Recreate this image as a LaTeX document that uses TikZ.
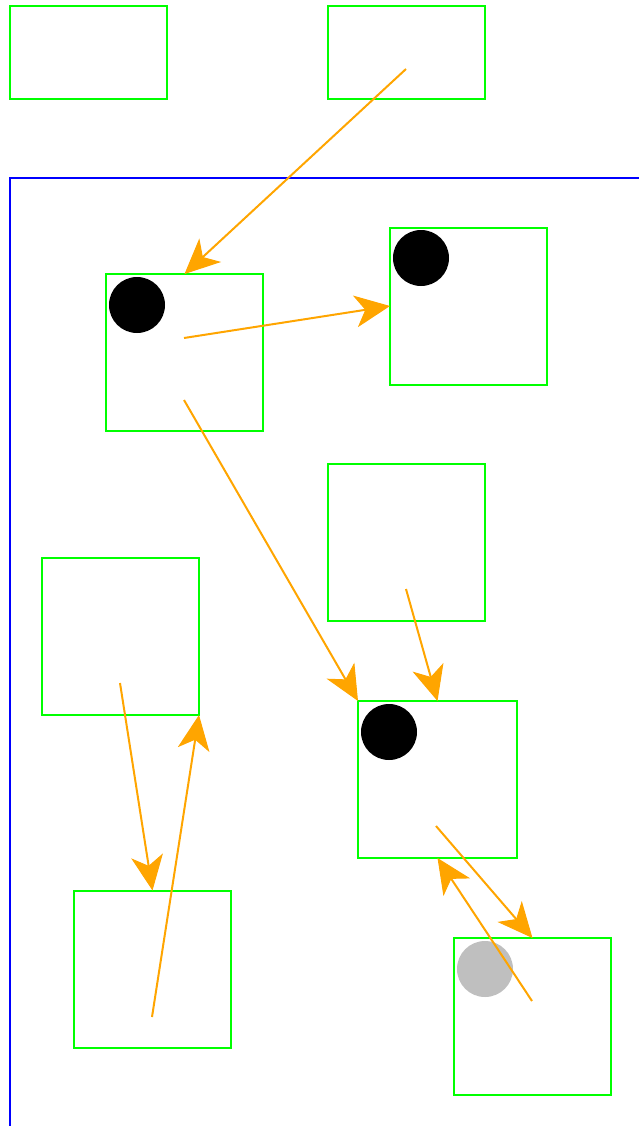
\documentclass[tikz,border=0pt]{standalone}
\usetikzlibrary{arrows.meta}
\definecolor{boxgreen}{RGB}{0,255,0}
\definecolor{arrorange}{RGB}{255,165,0}
\definecolor{framblue}{RGB}{0,0,255}
\tikzset{
  box/.style={draw=boxgreen, line width=2pt, minimum width=157pt, minimum height=157pt, inner sep=0pt, outer sep=0pt},
  flatbox/.style={box, minimum height=93pt},
  conn/.style={draw=arrorange, line width=2pt, -{Stealth[length=35pt, width=32pt, inset=10pt, fill=arrorange, line width=1pt]}},
  blackdot/.style={fill=black, circle, minimum size=56pt, inner sep=0pt},
  graydot/.style={fill=black!25, circle, minimum size=56pt, inner sep=0pt}
}
\begin{document}
\begin{tikzpicture}[x=1pt, y=-1pt]
\useasboundingbox (0,0) rectangle (639,1126);
% frame
\draw[framblue, line width=2pt] (10,1126) -- (10,178) -- (639,178);
% boxes
\node[flatbox] (TL) at (88.5,52.5) {};
\node[flatbox] (TR) at (406.5,52.5) {};
\node[box] (A) at (184.5,352.5) {};
\node[box] (B) at (468.5,306) {};
\node[box] (C) at (406.5,542.5) {};
\node[box] (D) at (120.5,636.5) {};
\node[box, minimum width=159pt] (E) at (437.5,779.5) {};
\node[box] (F) at (152.5,969) {};
\node[box] (G) at (532.5,1016.5) {};
% dots
\node[blackdot] (dA) at (137,305) {};
\node[blackdot] (dB) at (421,258) {};
\node[blackdot] (dE) at (389,732) {};
\node[graydot] (dG) at (485,969) {};
% connector start points
\coordinate (s1) at (406,69);
\coordinate (s2) at (184,338);
\coordinate (s3) at (184,400);
\coordinate (s4) at (406,589);
\coordinate (s5) at (120,683);
\coordinate (s6) at (152,1017);
\coordinate (s7) at (436,826);
\coordinate (s8) at (532,1001);
% connectors
\draw[conn] (s1) -- (A.north);
\draw[conn] (s2) -- (B.west);
\draw[conn] (s3) -- (E.north west);
\draw[conn] (s4) -- (E.north);
\draw[conn] (s5) -- (F.north);
\draw[conn] (s6) -- (D.south east);
\draw[conn] (s7) -- (G.north);
\draw[conn] (s8) -- (E.south);
\end{tikzpicture}
\end{document}
